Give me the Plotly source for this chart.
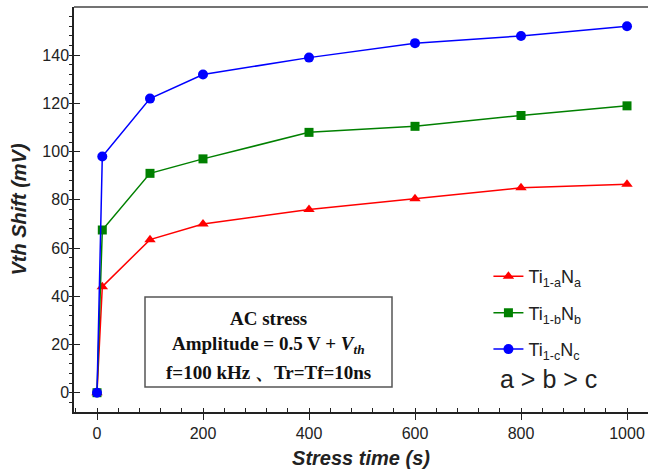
import plotly.graph_objects as go

time_s = [0, 10, 100, 200, 400, 600, 800, 1000]
shift_a = [0, 44, 63.5, 70, 76, 80.5, 85, 86.5]
shift_b = [0, 67.5, 91, 97, 108, 110.5, 115, 119]
shift_c = [0, 98, 122, 132, 139, 145, 148, 152]
names = ["Ti<sub>1-a</sub>N<sub>a</sub>", "Ti<sub>1-b</sub>N<sub>b</sub>", "Ti<sub>1-c</sub>N<sub>c</sub>"]
colors = ["#ff0000", "#008000", "#0000ff"]
symbols = ["triangle-up", "square", "circle"]

fig = go.Figure()
for i, (ys, nm, c, s, sz) in enumerate(zip([shift_a, shift_b, shift_c], names, colors, symbols, [10, 9, 10])):
    fig.add_trace(go.Scatter(x=time_s, y=ys, name=nm, mode="lines+markers", legendgroup=f"g{i}",
                             line=dict(color=c, width=1.5),
                             marker=dict(color=c, symbol=s, size=sz)))

axfont = dict(family="Liberation Sans, Arial", size=16, color="#222")
fig.update_layout(
    width=649, height=474,
    margin=dict(l=74, r=1, t=7, b=62),
    plot_bgcolor="white", paper_bgcolor="white",
    showlegend=True,
    legend=dict(x=0.722, y=0.38, xanchor="left", yanchor="top",
                font=dict(family="Liberation Sans, Arial", size=18, color="#222"),
                bgcolor="rgba(0,0,0,0)", tracegroupgap=10),
    xaxis=dict(range=[-43.4, 1039.6], tickvals=[0, 200, 400, 600, 800, 1000],
               showgrid=False, zeroline=False, showline=True, linecolor="#222", linewidth=1.5,
               mirror=False, ticks="outside", ticklen=6, tickcolor="#222", tickfont=axfont,
               minor=dict(dtick=40, tick0=0, ticks="inside", ticklen=4, tickcolor="#222"),
               title=dict(text="<b><i>Stress time (s)</i></b>",
                          font=dict(family="Liberation Sans, Arial", size=20, color="#222"),
                          standoff=10)),
    yaxis=dict(range=[-8, 160], tickvals=[0, 20, 40, 60, 80, 100, 120, 140],
               showgrid=False, zeroline=False, showline=True, linecolor="#222", linewidth=1.5,
               ticks="inside", ticklen=6, tickcolor="#222", tickfont=axfont,
               minor=dict(dtick=4, tick0=0, ticks="outside", ticklen=3, tickcolor="#222"),
               title=dict(text="<b><i>Vth Shift (mV)</i></b>",
                          font=dict(family="Liberation Sans, Arial", size=20, color="#222"),
                          standoff=10)),
)

# top frame line
fig.add_shape(type="line", xref="paper", yref="paper", x0=0, x1=1, y0=1, y1=1,
              line=dict(color="#444", width=1.5))

# annotation box
fig.add_shape(type="rect", xref="paper", yref="paper",
              x0=(145 - 74) / 574, x1=(392 - 74) / 574,
              y0=(412 - 387) / 405, y1=(412 - 297) / 405,
              line=dict(color="#555", width=1.5), fillcolor="white")
serif = dict(family="Liberation Serif, Times New Roman", size=19, color="#111")
box_lines = ["<b>AC stress</b>", "<b>Amplitude = 0.5 V + <i>V<sub>th</sub></i></b>", "<b>f=100 kHz 、Tr=Tf=10ns</b>"]
for txt, py in zip(box_lines, [318, 345, 372]):
    fig.add_annotation(text=txt, xref="paper", yref="paper", x=(268 - 74) / 574,
                       y=(412 - py) / 405, showarrow=False, font=serif,
                       xanchor="center", yanchor="middle")

fig.add_annotation(text="a > b > c", xref="paper", yref="paper", x=(548 - 74) / 574,
                   y=(412 - 379) / 405, showarrow=False,
                   font=dict(family="Liberation Sans, Arial", size=25, color="#222"),
                   xanchor="center", yanchor="middle")

fig.write_html("out.html")
